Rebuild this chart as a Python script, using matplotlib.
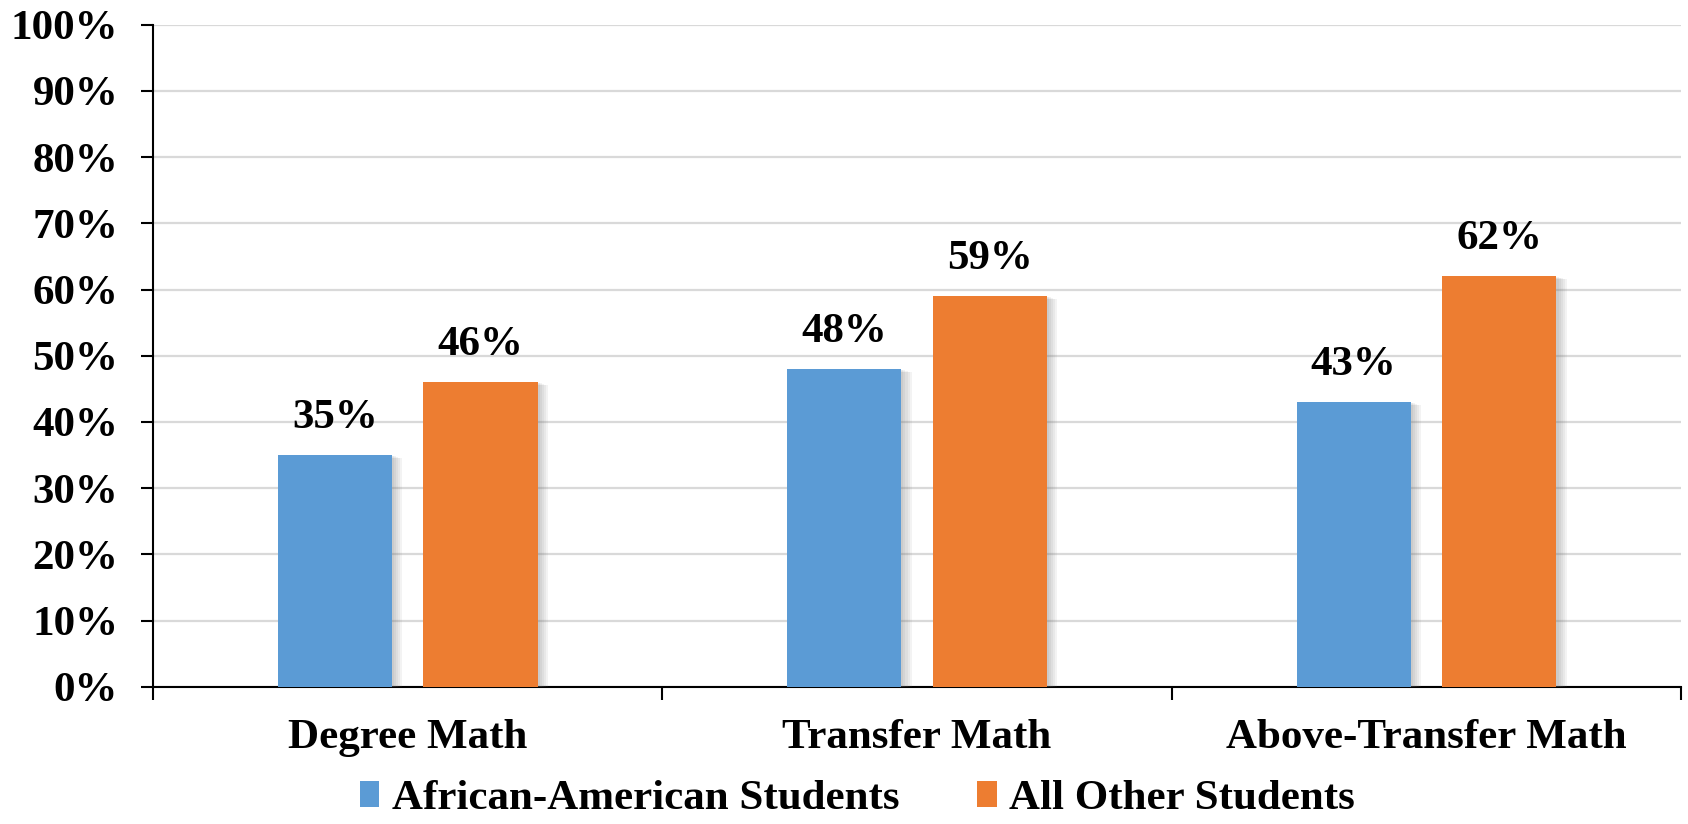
import numpy as np
import matplotlib.pyplot as plt
import matplotlib.patheffects as pe

categories = ['Degree Math', 'Transfer Math', 'Above-Transfer Math']
african_american = [35, 48, 43]
all_other = [46, 59, 62]
series_names = ['African-American Students', 'All Other Students']

plt.rcParams['font.family'] = ['Liberation Serif', 'DejaVu Serif']
plt.rcParams['font.weight'] = 'bold'
FS = 31

fig = plt.figure(figsize=(16.88, 8.24), dpi=100)
ax = fig.add_axes([0.0906, 0.1665, 0.9054, 0.8035])

x = np.arange(len(categories))
w = 0.224
off = 0.143
# soft shadow to the right of each bar, built from a few faint layers
shadow = [pe.SimplePatchShadow(offset=(d, -d * 0.3), shadow_rgbFace='#7a7a7a', alpha=0.09)
          for d in (1.5, 3, 4.5, 6, 7.5)] + [pe.Normal()]

b1 = ax.bar(x - off, african_american, w, color='#5B9BD5', label=series_names[0],
            path_effects=shadow, zorder=3)
b2 = ax.bar(x + off, all_other, w, color='#ED7D31', label=series_names[1],
            path_effects=shadow, zorder=3)

for bars, vals in ((b1, african_american), (b2, all_other)):
    for r, v in zip(bars, vals):
        ax.annotate(f'{v}%', (r.get_x() + r.get_width() / 2, v), xytext=(0, 13),
                    textcoords='offset points', ha='center', va='bottom',
                    fontsize=FS, fontweight='bold')

ax.set_xlim(-0.5, len(categories) - 0.5)
ax.set_ylim(0, 100)
ax.set_yticks(np.arange(0, 101, 10))
ax.set_yticklabels([f'{t}%' for t in range(0, 101, 10)], fontsize=FS, fontweight='bold')

# category labels centred, tick marks on the category boundaries
ax.set_xticks(np.arange(-0.5, len(categories), 1.0))
ax.set_xticklabels([])
ax.set_xticks(x, minor=True)
ax.set_xticklabels(categories, minor=True, fontsize=FS, fontweight='bold')
ax.tick_params(axis='x', which='minor', length=0, pad=23)
ax.tick_params(axis='x', which='major', length=9, width=1.5, direction='out')
ax.tick_params(axis='y', length=9, width=1.5, direction='out', pad=16)

ax.grid(axis='y', color='#D9D9D9', linewidth=1.6, zorder=0)
ax.set_axisbelow(True)
for s in ('top', 'right'):
    ax.spines[s].set_visible(False)
ax.spines['left'].set_linewidth(1.5)
ax.spines['bottom'].set_linewidth(1.5)

leg = fig.legend(handles=[b1, b2], labels=series_names, loc='center',
                 bbox_to_anchor=(0.508, 0.03), ncol=2, frameon=False, fontsize=FS,
                 handlelength=0.45, handleheight=0.55, columnspacing=1.8, handletextpad=0.3,
                 borderaxespad=0, borderpad=0)
for h in leg.legend_handles:
    h.set_path_effects([])

fig.savefig('out.png', dpi=100)
